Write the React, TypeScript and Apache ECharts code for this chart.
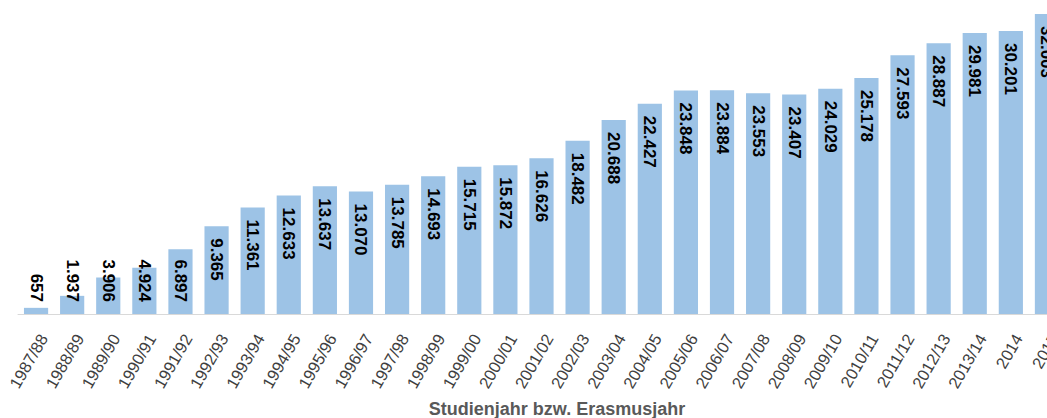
import React, { useEffect, useRef } from "react";
import * as echarts from "echarts";

const categories = [
  "1987/88", "1988/89", "1989/90", "1990/91", "1991/92", "1992/93", "1993/94", "1994/95",
  "1995/96", "1996/97", "1997/98", "1998/99", "1999/00", "2000/01", "2001/02", "2002/03",
  "2003/04", "2004/05", "2005/06", "2006/07", "2007/08", "2008/09", "2009/10", "2010/11",
  "2011/12", "2012/13", "2013/14", "2014", "2015",
];

const values = [
  657, 1937, 3906, 4924, 6897, 9365, 11361, 12633,
  13637, 13070, 13785, 14693, 15715, 15872, 16626, 18482,
  20688, 22427, 23848, 23884, 23553, 23407, 24029, 25178,
  27593, 28887, 29981, 30201, 32003,
];

const axisTitle = "Studienjahr bzw. Erasmusjahr";

const SMALL_LIMIT = 7000;

function fmt(v: number): string {
  return String(v).replace(/\B(?=(\d{3})+(?!\d))/g, ".");
}

export default function App() {
  const ref = useRef<HTMLDivElement>(null);
  useEffect(() => {
    if (!ref.current) return;
    const chart = echarts.init(ref.current, undefined, { renderer: "svg" });
    const data = values.map((v) =>
      v < SMALL_LIMIT
        ? {
            value: v,
            label: { position: "insideBottom", align: "right", verticalAlign: "middle", distance: 12 },
          }
        : { value: v }
    );
    chart.setOption({
      animation: false,
      grid: { left: 18, right: 0, top: 0, bottom: 104, containLabel: false },
      xAxis: {
        type: "category",
        data: categories,
        axisLine: { show: true, lineStyle: { color: "#d9d9d9", width: 1 } },
        axisTick: { show: false },
        axisLabel: {
          interval: 0,
          rotate: 60,
          margin: 17,
          verticalAlign: "top",
          color: "#404040",
          fontSize: 16.5,
          fontFamily: "Liberation Sans, Arial, sans-serif",
        },
      },
      yAxis: {
        type: "value",
        min: 0,
        max: 33500,
        show: false,
        splitLine: { show: false },
      },
      series: [
        {
          type: "bar",
          data,
          barCategoryGap: "33%",
          itemStyle: { color: "#9dc3e6" },
          label: {
            show: true,
            position: "insideTop",
            rotate: -90,
            align: "left",
            verticalAlign: "middle",
            distance: 12,
            color: "#000000",
            fontWeight: "bold",
            fontSize: 17,
            fontFamily: "Liberation Sans, Arial, sans-serif",
            formatter: (p: any) => fmt(p.value),
          },
        },
      ],
      graphic: [
        {
          type: "text",
          x: 557,
          y: 409,
          style: {
            text: axisTitle,
            fill: "#595959",
            fontSize: 18,
            fontWeight: "bold",
            fontFamily: "Liberation Sans, Arial, sans-serif",
            textAlign: "center",
            textVerticalAlign: "middle",
          },
        },
      ],
    });
    return () => chart.dispose();
  }, []);
  return (
    <div style={{ position: "fixed", left: 0, top: 0, width: 1047, height: 418, overflow: "hidden", background: "#fff" }}>
      <div ref={ref} style={{ width: 1065, height: 418 }} />
    </div>
  );
}
